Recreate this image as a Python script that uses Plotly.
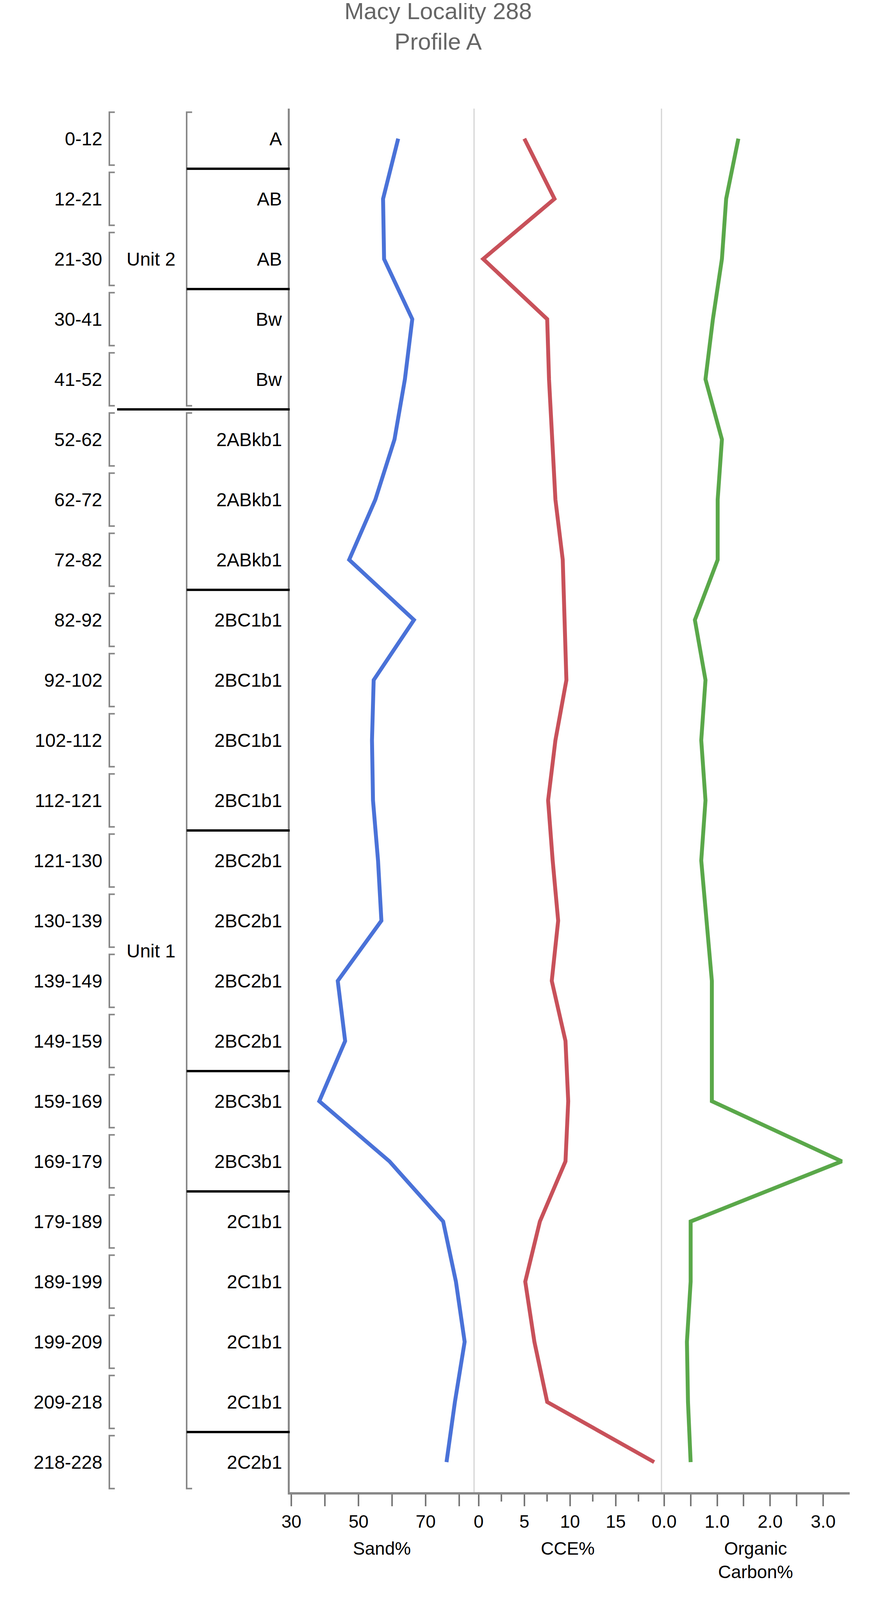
import plotly.graph_objects as go

depths = ["0-12","12-21","21-30","30-41","41-52","52-62","62-72","72-82","82-92","92-102",
          "102-112","112-121","121-130","130-139","139-149","149-159","159-169","169-179",
          "179-189","189-199","199-209","209-218","218-228"]
horizons = ["A","AB","AB","Bw","Bw","2ABkb1","2ABkb1","2ABkb1","2BC1b1","2BC1b1","2BC1b1",
            "2BC1b1","2BC2b1","2BC2b1","2BC2b1","2BC2b1","2BC3b1","2BC3b1","2C1b1","2C1b1",
            "2C1b1","2C1b1","2C2b1"]
units = ["Unit 2"]*5 + ["Unit 1"]*18
sand = [61.8,57.3,57.6,66.0,63.8,60.7,55.0,47.2,66.5,54.5,54.0,54.3,55.8,56.8,43.8,46.0,
        38.3,59.2,75.2,79.0,81.6,78.7,76.2]
cce = [5.0,8.3,0.5,7.5,7.7,8.0,8.4,9.2,9.4,9.6,8.4,7.6,8.1,8.7,8.0,9.5,9.8,9.5,6.7,5.1,
       6.1,7.5,19.2]
oc = [1.40,1.17,1.09,0.92,0.78,1.09,1.01,1.01,0.58,0.78,0.70,0.78,0.70,0.80,0.90,0.90,
      0.90,3.35,0.50,0.50,0.43,0.45,0.50]

W, H = 2228, 4090
k = H / 4356
L, R, T, B = 734, 2168, int(288 * k), int(4060 * k)
n = len(depths)
ys = list(range(n))

def px(x):
    return (x - L) / (R - L)

fig = go.Figure()
fig.add_trace(go.Scatter(x=sand, y=ys, mode="lines", line=dict(color="#4a72d8", width=10), xaxis="x", yaxis="y"))
fig.add_trace(go.Scatter(x=cce, y=ys, mode="lines", line=dict(color="#c8515a", width=10), xaxis="x2", yaxis="y"))
fig.add_trace(go.Scatter(x=oc, y=ys, mode="lines", line=dict(color="#5aa84a", width=10), xaxis="x3", yaxis="y"))

tickfont = dict(family="Liberation Sans, Arial", size=46, color="black")
axcommon = dict(showgrid=False, zeroline=False, showline=True, linecolor="#888", linewidth=6,
                ticks="outside", ticklen=30, tickwidth=4, tickcolor="#777", tickfont=tickfont,
                anchor="y", fixedrange=True)
d1, d2 = px(1206), px(1686)
fig.update_layout(
    width=W, height=H, margin=dict(l=L, r=W - R, t=T, b=H - B),
    paper_bgcolor="white", plot_bgcolor="white", showlegend=False,
    xaxis=dict(domain=[0, d1], range=[29.5, 84.4],
               tickvals=[30,40,50,60,70,80], ticktext=["30","","50","","70",""],
               title=dict(text="Sand%", font=tickfont, standoff=30), **axcommon),
    xaxis2=dict(domain=[d1, d2], range=[-0.5, 20],
                tickvals=[0,5,10,15], ticktext=["0","5","10","15"],
                minor=dict(tickvals=[2.5,7.5,12.5,17.5], ticklen=18, tickwidth=4, tickcolor="#777", ticks="outside"),
                title=dict(text="CCE%", font=tickfont, standoff=30), **axcommon),
    xaxis3=dict(domain=[d2, 1], range=[-0.05, 3.5],
                tickvals=[0,0.5,1,1.5,2,2.5,3], ticktext=["0.0","","1.0","","2.0","","3.0"],
                title=dict(text="Organic<br>Carbon%", font=tickfont, standoff=30), **axcommon),
    yaxis=dict(range=[n - 0.5, -0.5], showticklabels=False, showgrid=False, zeroline=False,
               showline=True, linecolor="#888", linewidth=5, ticks="", fixedrange=True),
    title=dict(text="Macy Locality 288<br>Profile A", x=0.5, xanchor="center", y=0.99, yanchor="top",
               font=dict(family="Liberation Sans, Arial", size=60, color="#666")),
)

shapes = []
for xv in [d1, d2]:
    shapes.append(dict(type="line", xref="paper", yref="paper", x0=xv, x1=xv, y0=0, y1=1,
                       line=dict(color="#d4d4d4", width=3), layer="below"))

grey = "#888"
bx, sx = 272, 286
for i in range(n):
    y0, y1 = i - 0.44, i + 0.44
    shapes.append(dict(type="path", xref="paper", yref="y",
                       path=f"M {px(sx)} {y0} L {px(bx)} {y0} L {px(bx)} {y1} L {px(sx)} {y1}",
                       line=dict(color=grey, width=4)))
ux, usx = 470, 484
unit_spans = []
start = 0
for i in range(1, n + 1):
    if i == n or units[i] != units[start]:
        unit_spans.append((units[start], start, i - 1))
        start = i
for name, a, b in unit_spans:
    y0, y1 = a - 0.44, b + 0.44
    shapes.append(dict(type="path", xref="paper", yref="y",
                       path=f"M {px(usx)} {y0} L {px(ux)} {y0} L {px(ux)} {y1} L {px(usx)} {y1}",
                       line=dict(color=grey, width=4)))
for i in range(1, n):
    if horizons[i] != horizons[i - 1]:
        x0 = 292 if units[i] != units[i - 1] else 470
        shapes.append(dict(type="line", xref="paper", yref="y", x0=px(x0), x1=0, y0=i - 0.5, y1=i - 0.5,
                           line=dict(color="black", width=6)))

ann = []
lf = dict(family="Liberation Sans, Arial", size=48, color="black")
for i in range(n):
    ann.append(dict(xref="paper", yref="y", x=px(256), y=i, text=depths[i], showarrow=False,
                    xanchor="right", yanchor="middle", font=lf))
    ann.append(dict(xref="paper", yref="y", x=px(716), y=i, text=horizons[i], showarrow=False,
                    xanchor="right", yanchor="middle", font=lf))
for name, a, b in unit_spans:
    ann.append(dict(xref="paper", yref="y", x=px(378), y=(a + b) / 2, text=name, showarrow=False,
                    xanchor="center", yanchor="middle", font=lf))

fig.update_layout(shapes=shapes, annotations=ann)
fig.write_html("out.html")
